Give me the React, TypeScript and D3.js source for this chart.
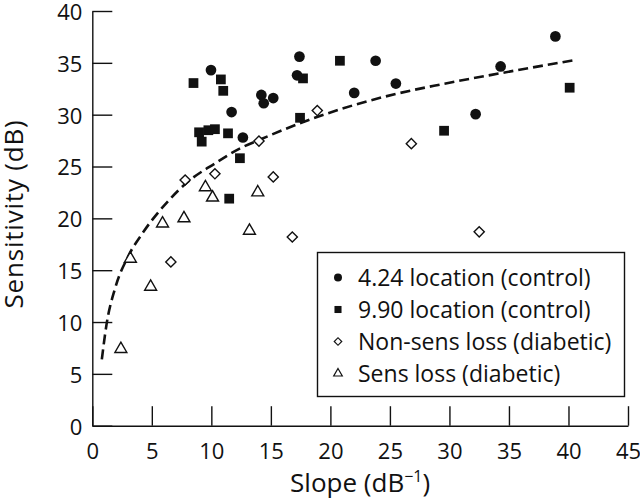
import { useEffect, useRef } from "react";
import * as d3 from "d3";

// slope (dB^-1), sensitivity (dB)
const control424 = [
    [9.97, 34.3], [11.7, 30.25], [12.65, 27.8], [14.2, 31.9], [14.4, 31.1],
    [15.2, 31.6], [17.4, 35.6], [17.2, 33.8], [22.0, 32.1], [23.8, 35.2],
    [25.5, 33.0], [32.2, 30.05], [34.3, 34.65], [38.9, 37.55]
];

const control990 = [
    [8.5, 33.05], [10.8, 33.4], [11.0, 32.3], [8.97, 28.3], [9.19, 27.4],
    [9.75, 28.5], [10.3, 28.6], [11.4, 28.2], [12.4, 25.8], [11.5, 21.9],
    [17.7, 33.5], [20.8, 35.2], [17.45, 29.7], [29.55, 28.45], [40.1, 32.6]
];

const nonSensLoss = [
    [7.8, 23.7], [10.3, 24.3], [14.0, 27.45], [15.2, 24.0], [18.9, 30.4],
    [26.8, 27.2], [16.8, 18.2], [32.5, 18.7], [6.6, 15.8]
];

const sensLoss = [
    [2.4, 7.4], [3.2, 16.1], [4.9, 13.4], [5.9, 19.5], [7.7, 20.0],
    [9.5, 23.0], [10.1, 22.0], [13.2, 18.8], [13.9, 22.5]
];

// dashed fit line
const fitLine = [
    [0.8, 6.4], [1.2, 9.8], [1.9, 13.2], [3.0, 16.3], [4.3, 18.7], [6.4, 21.7],
    [8.0, 23.5], [10.3, 25.3], [12.5, 26.8], [14.1, 27.6], [17.5, 29.2],
    [21.9, 30.9], [25.5, 32.0], [29.2, 32.9], [34.3, 34.0], [40.7, 35.3]
];

const xTicks = [0, 5, 10, 15, 20, 25, 30, 35, 40, 45];
const yTicks = [0, 5, 10, 15, 20, 25, 30, 35, 40];

const legendLabels = [
    "4.24 location (control)",
    "9.90 location (control)",
    "Non-sens loss (diabetic)",
    "Sens loss (diabetic)"
];

const font = "'Open Sans', 'Noto Sans', sans-serif";

export default function App() {
    let ref = useRef(null);

    useEffect(() => {
        let width = 640;
        let height = 503;

        const margin = { top: 11, right: 12, bottom: 77.3, left: 92.3 };

        const XScale = d3.scaleLinear()
            .domain([0, 45])
            .range([margin.left, width - margin.right]);

        const YScale = d3.scaleLinear()
            .domain([0, 40])
            .range([height - margin.bottom, margin.top]);

        const svg = d3.select(ref.current)
            .append("svg")
            .attr("width", width)
            .attr("height", height)
            .style("position", "absolute")
            .style("left", 0)
            .style("top", 0)
            .style("background", "#fff");

        // inward ticks, like the original
        const XAxis = d3.axisBottom(XScale)
            .tickValues(xTicks)
            .tickSizeInner(-19.5)
            .tickSizeOuter(0)
            .tickPadding(18);
        const YAxis = d3.axisLeft(YScale)
            .tickValues(yTicks)
            .tickSizeInner(-20)
            .tickSizeOuter(0)
            .tickPadding(10);

        const gx = svg.append("g")
            .attr("transform", `translate(0,${height - margin.bottom})`)
            .call(XAxis);
        const gy = svg.append("g")
            .attr("transform", `translate(${margin.left},0)`)
            .call(YAxis);

        [gx, gy].forEach(g => {
            g.selectAll("path, line").attr("stroke", "#111").attr("stroke-width", 1.4);
            g.selectAll("text")
                .attr("font-family", font)
                .attr("font-size", "22px")
                .attr("fill", "#111");
        });
        gy.selectAll("text").attr("dy", "0.38em");

        // fit line
        const line = d3.line()
            .x(d => XScale(d[0]))
            .y(d => YScale(d[1]))
            .curve(d3.curveMonotoneX);

        svg.append("path")
            .datum(fitLine)
            .attr("d", line)
            .attr("fill", "none")
            .attr("stroke", "#111")
            .attr("stroke-width", 2.6)
            .attr("stroke-dasharray", "10,5");

        const series = [
            { data: control424, type: d3.symbolCircle, size: 90, legSize: 50, filled: true, rot: 0 },
            { data: control990, type: d3.symbolSquare, size: 95, legSize: 50, filled: true, rot: 0 },
            { data: nonSensLoss, type: d3.symbolSquare, size: 52, legSize: 28, filled: false, rot: 45 },
            { data: sensLoss, type: d3.symbolTriangle, size: 62, legSize: 32, filled: false, rot: 0 }
        ];

        series.forEach(s => {
            svg.append("g")
                .selectAll("path")
                .data(s.data)
                .join("path")
                .attr("d", d3.symbol().type(s.type).size(s.size))
                .attr("transform", d => `translate(${XScale(d[0])},${YScale(d[1])}) rotate(${s.rot})`)
                .attr("fill", s.filled ? "#111" : "#fff")
                .attr("stroke", s.filled ? "none" : "#111")
                .attr("stroke-width", 1.4);
        });

        // legend
        const legend = svg.append("g");
        legend.append("rect")
            .attr("x", 317.5)
            .attr("y", 252.5)
            .attr("width", 307)
            .attr("height", 144)
            .attr("fill", "#fff")
            .attr("stroke", "#111")
            .attr("stroke-width", 1.4);

        legendLabels.forEach((label, i) => {
            const s = series[i];
            const cy = 277.5 + i * 32;
            legend.append("path")
                .attr("d", d3.symbol().type(s.type).size(s.legSize))
                .attr("transform", `translate(338,${cy}) rotate(${s.rot})`)
                .attr("fill", s.filled ? "#111" : "#fff")
                .attr("stroke", s.filled ? "none" : "#111")
                .attr("stroke-width", 1.2);
            legend.append("text")
                .attr("x", 358)
                .attr("y", cy)
                .attr("dy", "0.36em")
                .attr("font-family", font)
                .attr("font-size", "23px")
                .attr("fill", "#111")
                .text(label);
        });

        // axis titles
        const xt = svg.append("text")
            .attr("x", (margin.left + width - margin.right) / 2)
            .attr("y", 492)
            .attr("text-anchor", "middle")
            .attr("font-family", font)
            .attr("font-size", "26px")
            .attr("fill", "#111");
        xt.append("tspan").text("Slope (dB");
        xt.append("tspan").attr("dy", -10).attr("font-size", "16px").text("\u22121");
        xt.append("tspan").attr("dy", 10).text(")");

        svg.append("text")
            .attr("transform", "rotate(-90)")
            .attr("x", -214)
            .attr("y", 23)
            .attr("text-anchor", "middle")
            .attr("font-family", font)
            .attr("font-size", "26px")
            .attr("letter-spacing", "0.8px")
            .attr("fill", "#111")
            .text("Sensitivity (dB)");

        return () => {
            d3.select(ref.current).selectAll('*').remove();
        }
    })

    return (
        <div ref={ref} />
    )
}
